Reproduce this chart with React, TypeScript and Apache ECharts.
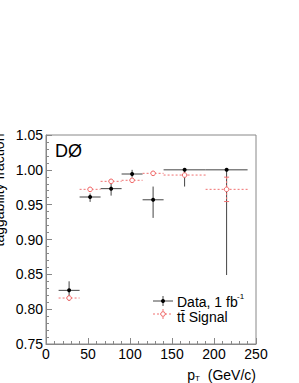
import React, { useEffect, useRef } from "react";
import * as echarts from "echarts";

const binLow = [15, 40, 65, 90, 115, 140, 190];
const binHigh = [40, 65, 90, 115, 140, 190, 240];
const binCenter = [27.5, 52.5, 77.5, 102.5, 127.5, 165, 215];

const dataValues = [0.827, 0.961, 0.973, 0.994, 0.957, 1.0, 1.0];
const dataErrLow = [0.015, 0.007, 0.01, 0.005, 0.026, 0.024, 0.151];
const dataErrHigh = [0.013, 0.005, 0.007, 0.006, 0.019, 0.0, 0.0];

const signalValues = [0.816, 0.972, 0.9835, 0.985, 0.995, 0.9925, 0.972];
const signalErrLow = [0.004, 0.002, 0.002, 0.002, 0.001, 0.003, 0.0175];
const signalErrHigh = [0.004, 0.002, 0.002, 0.002, 0.001, 0.003, 0.0175];

const FONT = "Liberation Sans, Arial, Helvetica, sans-serif";

function buildRows(vals: number[], el: number[], eh: number[]) {
  return binCenter.map((c, i) => [c, vals[i], binLow[i], binHigh[i], el[i], eh[i]]);
}

function makeRender(kind: "data" | "signal") {
  return (params: any, api: any) => {
    const c = api.value(0);
    const v = api.value(1);
    const lo = api.value(2);
    const hi = api.value(3);
    const el = api.value(4);
    const eh = api.value(5);
    const p = api.coord([c, v]);
    const pl = api.coord([lo, v]);
    const ph = api.coord([hi, v]);
    const pt = api.coord([c, v + eh]);
    const pb = api.coord([c, v - el]);
    const isData = kind === "data";
    const lineStyle = isData
      ? { stroke: "#444", lineWidth: 1 }
      : { stroke: "#f07070", lineWidth: 1, lineDash: [2, 2] };
    const children: any[] = [
      { type: "line", shape: { x1: pl[0], y1: p[1], x2: ph[0], y2: p[1] }, style: lineStyle },
      { type: "line", shape: { x1: p[0], y1: pt[1], x2: p[0], y2: pb[1] }, style: lineStyle },
    ];
    if (!isData && Math.abs(pb[1] - pt[1]) > 6) {
      children.push(
        { type: "line", shape: { x1: p[0] - 2.5, y1: pt[1], x2: p[0] + 2.5, y2: pt[1] }, style: { stroke: "#f07070", lineWidth: 1 } },
        { type: "line", shape: { x1: p[0] - 2.5, y1: pb[1], x2: p[0] + 2.5, y2: pb[1] }, style: { stroke: "#f07070", lineWidth: 1 } }
      );
    }
    if (isData) {
      children.push({ type: "circle", shape: { cx: p[0], cy: p[1], r: 2 }, style: { fill: "#000" } });
    } else {
      children.push({ type: "circle", shape: { cx: p[0], cy: p[1], r: 2.3 }, style: { fill: "#fff", stroke: "#f06060", lineWidth: 1 } });
    }
    return { type: "group", children };
  };
}

export default function App() {
  const ref = useRef<HTMLDivElement>(null);
  useEffect(() => {
    if (!ref.current) return;
    const chart = echarts.init(ref.current, null, { renderer: "svg" });
    const axisCommon = {
      axisLine: { show: true, lineStyle: { color: "#888", width: 1 } },
      axisTick: { show: true, inside: true, length: 6, lineStyle: { color: "#888" } },
      minorTick: { show: true, splitNumber: 5, length: 3, lineStyle: { color: "#888" } },
      splitLine: { show: false },
      minorSplitLine: { show: false },
      axisLabel: { color: "#000", fontSize: 14, fontFamily: FONT },
    };
    chart.setOption({
      animation: false,
      backgroundColor: "#fff",
      grid: { left: 46, right: 43, top: 135, bottom: 39, show: true, borderColor: "#888", borderWidth: 1, containLabel: false },
      xAxis: {
        type: "value",
        min: 0,
        max: 250,
        interval: 50,
        ...axisCommon,
        axisLabel: { ...axisCommon.axisLabel, margin: 3 },
      },
      yAxis: {
        type: "value",
        min: 0.75,
        max: 1.05,
        interval: 0.05,
        ...axisCommon,
        axisLabel: { ...axisCommon.axisLabel, margin: 3, formatter: (v: number) => v.toFixed(2) },
      },
      series: [
        {
          type: "custom",
          name: "Data",
          renderItem: makeRender("data"),
          encode: { x: 0, y: 1 },
          data: buildRows(dataValues, dataErrLow, dataErrHigh),
          z: 2,
        },
        {
          type: "custom",
          name: "Signal",
          renderItem: makeRender("signal"),
          encode: { x: 0, y: 1 },
          data: buildRows(signalValues, signalErrLow, signalErrHigh),
          z: 3,
        },
      ],
      graphic: [
        { type: "text", x: 55, y: 151, style: { text: "DØ", fontSize: 18, fontFamily: FONT, fill: "#000", textVerticalAlign: "middle" } },
        { type: "text", x: -1, y: 190, rotation: Math.PI / 2, style: { text: "taggability fraction", fontSize: 14, fontFamily: FONT, fill: "#000", textAlign: "center", textVerticalAlign: "middle" } },
        { type: "text", x: 195, y: 375, style: { text: "p", fontSize: 14, fontFamily: FONT, fill: "#000", textAlign: "right", textVerticalAlign: "middle" } },
        { type: "text", x: 195, y: 378, style: { text: "T", fontSize: 8, fontFamily: FONT, fill: "#000", textAlign: "left", textVerticalAlign: "middle" } },
        { type: "text", x: 256, y: 375, style: { text: "(GeV/c)", fontSize: 14, fontFamily: FONT, fill: "#000", textAlign: "right", textVerticalAlign: "middle" } },
        // legend: data
        { type: "line", shape: { x1: 153, y1: 301, x2: 173, y2: 301 }, style: { stroke: "#444", lineWidth: 1 } },
        { type: "line", shape: { x1: 163, y1: 296, x2: 163, y2: 306 }, style: { stroke: "#444", lineWidth: 1 } },
        { type: "circle", shape: { cx: 163, cy: 301, r: 2 }, style: { fill: "#000" } },
        { type: "text", x: 177, y: 302, style: { text: "Data, 1 fb", fontSize: 14, fontFamily: FONT, fill: "#000", textVerticalAlign: "middle" } },
        { type: "text", x: 237, y: 296, style: { text: "-1", fontSize: 8, fontFamily: FONT, fill: "#000", textVerticalAlign: "middle" } },
        // legend: signal
        { type: "line", shape: { x1: 153, y1: 314, x2: 173, y2: 314 }, style: { stroke: "#f07070", lineWidth: 1, lineDash: [2, 2] } },
        { type: "line", shape: { x1: 163, y1: 309, x2: 163, y2: 319 }, style: { stroke: "#f07070", lineWidth: 1, lineDash: [2, 2] } },
        { type: "circle", shape: { cx: 163, cy: 314, r: 2.3 }, style: { fill: "#fff", stroke: "#f06060", lineWidth: 1 } },
        { type: "text", x: 177, y: 317, style: { text: "tt\u0304 Signal", fontSize: 14, fontFamily: FONT, fill: "#000", textVerticalAlign: "middle" } },
      ],
    });
    return () => chart.dispose();
  }, []);
  return <div ref={ref} style={{ width: 299, height: 383, position: "absolute", left: 0, top: 0 }} />;
}
